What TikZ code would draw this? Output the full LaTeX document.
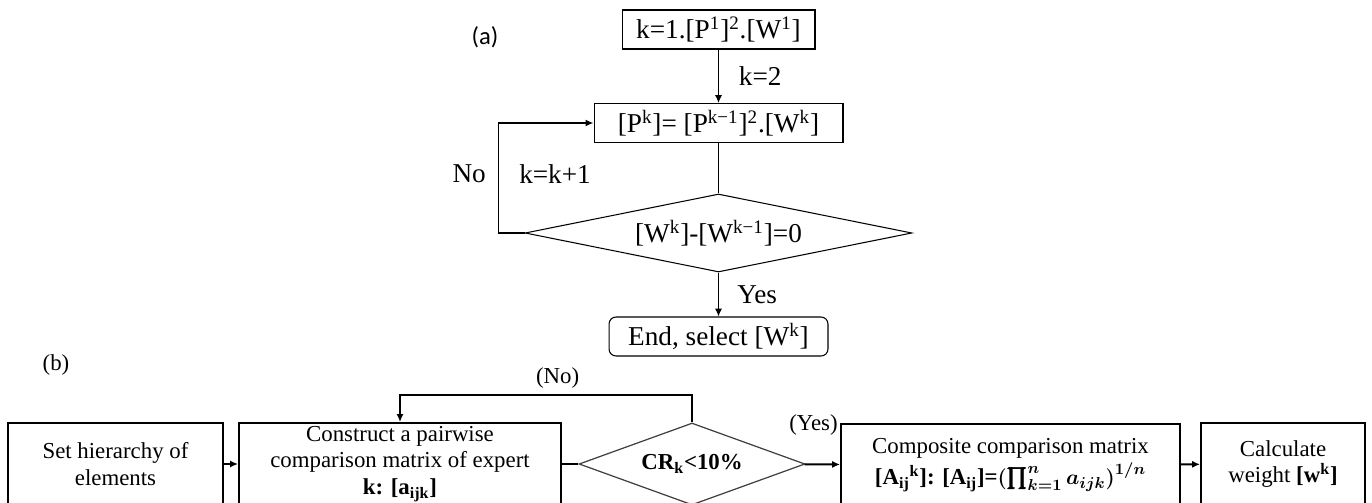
\documentclass[tikz,border=0pt]{standalone}
\usepackage{amsmath,bm}
\usepackage{fontspec}
\setmainfont{Liberation Serif}
\newfontfamily\labelfont{Carlito}
\usetikzlibrary{arrows.meta,shapes.geometric}
\tikzset{
  every node/.style={font=\fontsize{15.5}{17}\selectfont},
  arr/.style={-{Latex[length=4.5pt,width=4pt]}},
  topbox/.style={draw, inner sep=0pt, line width=0.6pt, minimum height=0.78cm},
  topcheck/.style={draw, diamond, aspect=4.96, inner sep=0pt, line width=0.6pt,
    minimum width=7.74cm, minimum height=1.56cm},
  botbox/.style={draw, inner sep=0pt, line width=1.1pt, align=center,
    minimum height=1.64cm, font=\fontsize{13}{15}\selectfont},
  botcheck/.style={draw=black!75, diamond, aspect=2.76, inner sep=0pt, line width=0.7pt,
    minimum width=4.52cm, minimum height=1.64cm, font=\fontsize{13}{15}\selectfont},
  botlabel/.style={font=\fontsize{13}{15}\selectfont}
}
\newcommand\upx[1]{\textsuperscript{#1}}
\newcommand\dnx[1]{\textsubscript{#1}}

\begin{document}
\begin{tikzpicture}[x=0.02cm, y=-0.02cm]
  \useasboundingbox (0,0) rectangle (1372,503);

  % (a)
  \node[font=\labelfont\fontsize{14}{16}\selectfont] (parta) at (485,37) {(a)};
  \node[topbox, minimum width=3.86cm] (init) at (718.5,29.5) {k=1.[P\upx{1}]\upx{2}.[W\upx{1}]};
  \node[topbox, minimum width=4.98cm] (update) at (718.5,123) {[P\upx{k}]= [P\upx{k−1}]\upx{2}.[W\upx{k}]};
  \node[topcheck] (check) at (718.5,233) {[W\upx{k}]-[W\upx{k−1}]=0};
  \node[topbox, rounded corners=4pt, minimum width=4.38cm] (stop) at (718.5,336.5) {End, select [W\upx{k}]};

  \draw[arr, line width=0.6pt] (init) -- node[right=0.28cm] {k=2} (update);
  \draw[line width=0.6pt] (update) -- (check);
  \draw[arr, line width=0.6pt] (check) -- node[right=0.25cm] {Yes} (stop);
  \draw[arr, line width=1pt] (check.west) -- ++(-26,0) |- (update.west)
    node[pos=0.27, left=0.12cm] {No}
    node[pos=0.27, right=0.28cm] {k=k+1};

  % (b)
  \node[botlabel] (partb) at (56,365) {(b)};
  \node[botbox, minimum width=4.3cm] (hier) at (115.5,464) {Set hierarchy of\\elements};
  \node[botbox, minimum width=6.44cm] (pair) at (400,464) {Construct a pairwise\\comparison matrix of expert\\\textbf{k: [a\dnx{ijk}]}};
  \node[botcheck] (cr) at (692,464) {\textbf{CR\dnx{k}<10\%}};
  \node[botbox, minimum width=6.78cm, font=\fontsize{13}{17.5}\selectfont] (comp) at (1010.5,465) {Composite comparison matrix\\\textbf{[A\dnx{ij}\upx{k}]: [A\dnx{ij}]=}$\smash{\bm{(\prod_{k=1}^{n} a_{ijk})^{1/n}}}$};
  \node[botbox, minimum width=3.28cm] (calc) at (1283,464) {Calculate\\weight \textbf{[w\upx{k}]}};

  \draw[arr, line width=1.1pt] (hier) -- (pair);
  \draw[line width=1.1pt] (pair) -- (cr);
  \draw[arr, line width=1.1pt] (cr) -- node[botlabel, pos=0.25, above=0.45cm] {(Yes)} (comp);
  \draw[arr, line width=1.1pt] (comp) -- (calc);
  \draw[arr, line width=1.1pt] (cr.north) -- ++(0,-27) -| node[botlabel, pos=0.23, above] {(No)} (pair.north);
\end{tikzpicture}
\end{document}
